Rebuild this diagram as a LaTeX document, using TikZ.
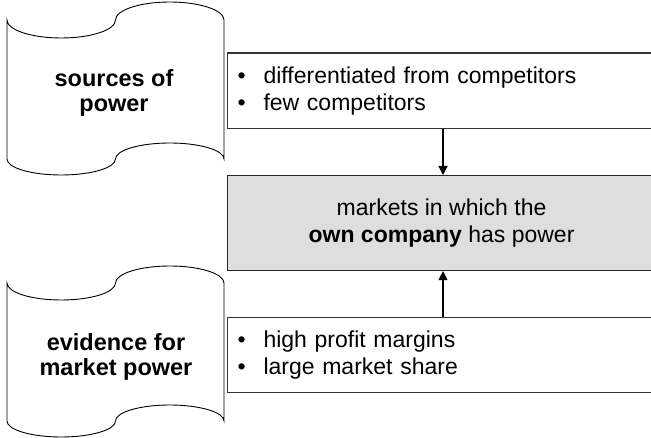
\documentclass[tikz,border=0pt]{standalone}
\usepackage{fontspec}
\setmainfont{Liberation Sans}
\usetikzlibrary{arrows.meta,calc}
\newcommand{\tapeshape}[4]{%
% #1 top y, #2 bottom y, #3 top amplitude, #4 bottom amplitude
\draw[tape] (7,#1)
 .. controls (7,{#1+0.552*#3}) and (31.3,{#1+#3}) .. (61.25,{#1+#3})
 .. controls (91.2,{#1+#3}) and (115.5,{#1+0.552*#3}) .. (115.5,#1)
 .. controls (115.5,{#1-0.552*#3}) and (139.8,{#1-#3}) .. (169.75,{#1-#3})
 .. controls (199.7,{#1-#3}) and (224,{#1-0.552*#3}) .. (224,#1)
 -- (224,#2)
 .. controls (224,{#2-0.552*#4}) and (199.7,{#2-#4}) .. (169.75,{#2-#4})
 .. controls (139.8,{#2-#4}) and (115.5,{#2-0.552*#4}) .. (115.5,#2)
 .. controls (115.5,{#2+0.552*#4}) and (91.2,{#2+#4}) .. (61.25,{#2+#4})
 .. controls (31.3,{#2+#4}) and (7,{#2+0.552*#4}) .. (7,#2)
 -- cycle;}
\begin{document}
\begin{tikzpicture}[x=1pt,y=-1pt,
  tape/.style={draw=black,line width=0.9pt,fill=white},
  tapetext/.style={align=center,font=\fontsize{23.5}{25.5}\selectfont\bfseries},
  listbox/.style={draw=black!80,line width=1.1pt,fill=white,anchor=north west,
    minimum width=428pt,text width=418pt,inner xsep=5pt,align=left,
    font=\fontsize{23}{27}\selectfont},
  midbox/.style={draw=black!85,line width=1.1pt,fill=black!13,anchor=north west,
    minimum width=428pt,align=center,inner sep=0pt,
    font=\fontsize{23}{27}\selectfont},
  arr/.style={draw=black,line width=1.2pt,-{Triangle[length=9pt,width=9pt]}}]
\useasboundingbox (0,0) rectangle (651,438);
\clip (0,0) rectangle (651,438);
\newcommand{\bul}{\makebox[18pt][c]{•}\hspace{13pt}}
% scrolls
\tapeshape{20}{159}{18}{16}
\node[tapetext] (src) at (114,93) {sources of\\power};
\tapeshape{283}{421}{17}{16}
\node[tapetext] (evd) at (116,357) {evidence for\\market power};
% boxes
\node[listbox,minimum height=75.5pt] (b1) at (227,52.5) {\bul differentiated from competitors\\\bul few competitors};
\node[midbox,minimum height=95pt] (mid) at (227,175) {markets in which the\\\textbf{own company} has power};
\node[listbox,minimum height=75pt] (b3) at (227,317) {\bul high profit margins\\\bul large market share};
% arrows
\coordinate (ax) at (443,0);
\draw[arr] (b1.south -| ax) -- (mid.north -| ax);
\draw[arr] (b3.north -| ax) -- (mid.south -| ax);
\end{tikzpicture}
\end{document}
